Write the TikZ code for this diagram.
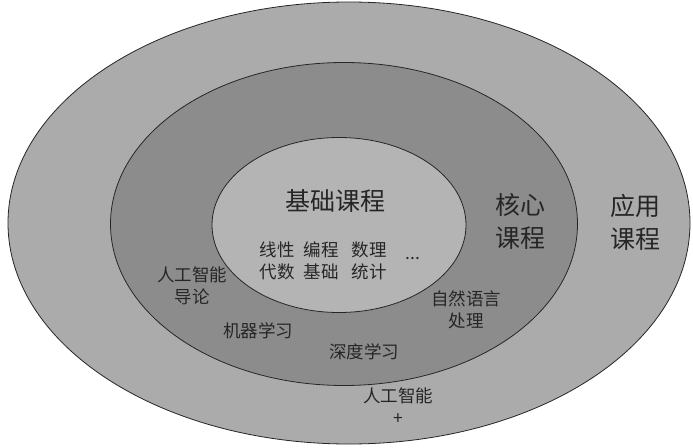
\documentclass[tikz,border=0pt]{standalone}
\usepackage{fontspec}
\setmainfont{Noto Sans CJK SC}
\usetikzlibrary{positioning, shapes.geometric}
\definecolor{outergray}{HTML}{ABABAB}
\definecolor{coregray}{HTML}{8C8C8C}
\definecolor{basegray}{HTML}{B4B4B4}
\tikzset{
  ring/.style={draw=black!85, ellipse, inner sep=0pt, line width=0.8pt},
  title/.style={align=center, font=\fontsize{25}{33}\selectfont, text=black!85},
  course/.style={align=center, font=\fontsize{17.5}{22}\selectfont, text=black!85}
}

\begin{document}
\begin{tikzpicture}[x=1pt, y=-1pt]
\useasboundingbox (0,0) rectangle (693,447);
% rings
\node[ring, fill=outergray, minimum width=682pt, minimum height=442pt] (app) at (349,223) {};
\node[ring, fill=coregray, minimum width=467pt, minimum height=323pt] (core) at (344,224) {};
\node[ring, fill=basegray, minimum width=254pt, minimum height=175pt] (base) at (339,225) {};
% titles
\node[title] (basetitle) at (335,201) {基础课程};
\node[title] (coretitle) at (520,221) {核心\\课程};
\node[title] (apptitle) at (635,222) {应用\\课程};
% basic courses
\node[course] (linalg) at (277,261) {线性\\代数};
\node[course, right=2pt of linalg] (prog) {编程\\基础};
\node[course, right=6pt of prog] (stat) {数理\\统计};
\node[course, right=12pt of stat, yshift=2pt] (more) {...};
% core courses
\node[course] (intro) at (192,286) {人工智能\\导论};
\node[course] (ml) at (258,331) {机器学习};
\node[course] (dl) at (364,352) {深度学习};
\node[course] (nlp) at (466,310) {自然语言\\处理};
% applied
\node[course] (aiplus) at (398,406) {人工智能\\+};
\end{tikzpicture}
\end{document}
